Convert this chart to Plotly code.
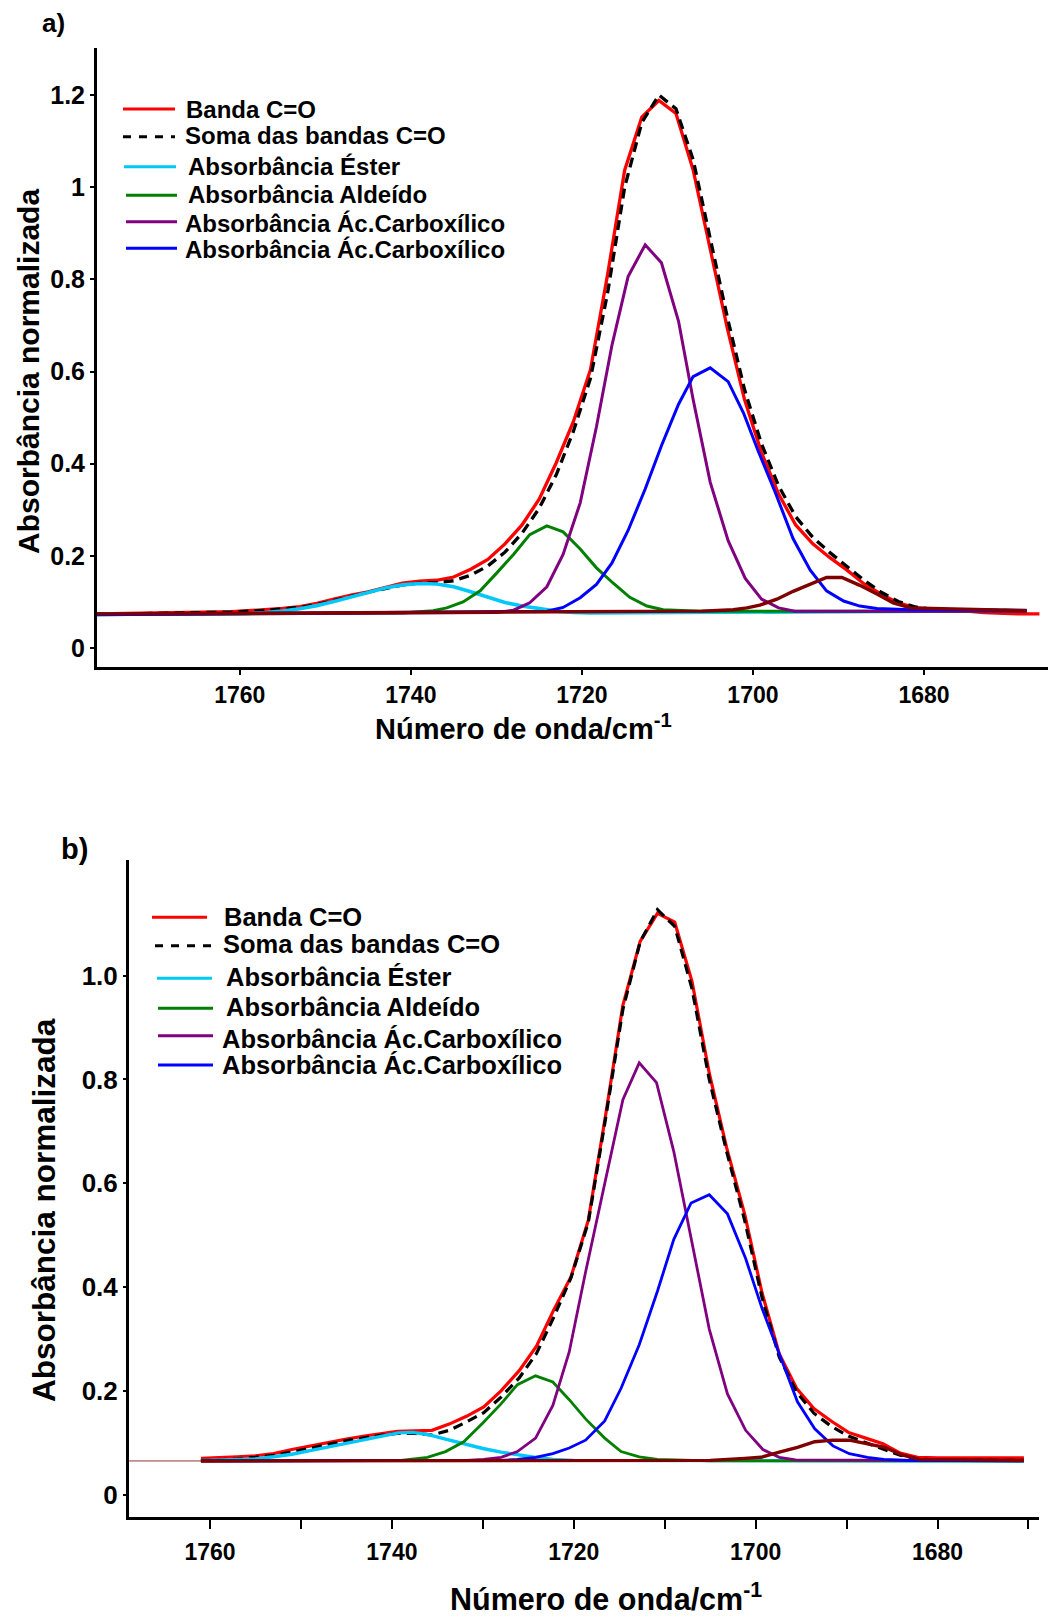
import plotly.graph_objects as go

W, H = 1048, 1620

# ------------------------- Panel a) data -------------------------
a_banda_x = [1777, 1773, 1769, 1765, 1763, 1761, 1759, 1757, 1755, 1753, 1751, 1749, 1747, 1745, 1743, 1741,
             1739, 1737, 1735, 1733, 1731, 1729, 1727, 1725, 1723, 1721, 1719, 1717, 1715, 1713, 1711, 1709,
             1707, 1705, 1703, 1701, 1699, 1697, 1695, 1693, 1691, 1689, 1687, 1685, 1683, 1681, 1679, 1677,
             1675, 1673, 1671, 1669, 1666.5]
a_banda_y = [0.074, 0.075, 0.076, 0.077, 0.078, 0.079, 0.081, 0.083, 0.086, 0.090, 0.097, 0.106, 0.115, 0.122,
             0.131, 0.141, 0.145, 0.147, 0.154, 0.171, 0.192, 0.226, 0.267, 0.323, 0.402, 0.491, 0.604, 0.810,
             1.037, 1.152, 1.188, 1.160, 1.038, 0.866, 0.694, 0.540, 0.424, 0.334, 0.267, 0.226, 0.196, 0.169,
             0.139, 0.117, 0.098, 0.087, 0.085, 0.083, 0.080, 0.077, 0.075, 0.074, 0.074]

a_soma_x = [1777, 1765, 1761, 1757, 1753, 1751, 1749, 1747, 1745, 1743, 1741, 1739, 1737, 1735, 1733, 1731,
            1729, 1727, 1725, 1723, 1721, 1719, 1717, 1715, 1713, 1711, 1709, 1707, 1705, 1703, 1701, 1699,
            1697, 1695, 1693, 1691, 1689, 1687, 1685, 1683, 1681, 1679, 1675, 1668]
a_soma_y = [0.073, 0.076, 0.078, 0.082, 0.088, 0.094, 0.103, 0.113, 0.121, 0.129, 0.137, 0.141, 0.142, 0.146,
            0.158, 0.178, 0.208, 0.249, 0.303, 0.376, 0.470, 0.585, 0.770, 1.000, 1.140, 1.200, 1.170, 1.060,
            0.890, 0.718, 0.562, 0.443, 0.352, 0.285, 0.240, 0.207, 0.177, 0.147, 0.121, 0.101, 0.089, 0.084,
            0.082, 0.081]

a_ester_x = [1777, 1761, 1759, 1757, 1755, 1753, 1751, 1749, 1747, 1745, 1743, 1741, 1739, 1737, 1735, 1733,
             1731, 1729, 1727, 1725, 1723, 1721, 1719, 1668]
a_ester_y = [0.073, 0.074, 0.075, 0.077, 0.080, 0.085, 0.092, 0.101, 0.111, 0.121, 0.130, 0.137, 0.140, 0.139,
             0.133, 0.122, 0.110, 0.099, 0.091, 0.085, 0.080, 0.077, 0.076, 0.081]

a_aldeido_x = [1777, 1741, 1737.4, 1735.8, 1733.9, 1731.9, 1730.0, 1728.0, 1726.1, 1724.1, 1722.2, 1720.2,
               1718.3, 1716.3, 1714.4, 1712.4, 1710.5, 1706.2, 1668]
a_aldeido_y = [0.073, 0.076, 0.081, 0.087, 0.100, 0.124, 0.162, 0.203, 0.246, 0.265, 0.252, 0.215, 0.174,
               0.140, 0.110, 0.091, 0.083, 0.080, 0.079]

a_acido1_x = [1777, 1730.0, 1728.0, 1726.1, 1724.1, 1722.2, 1720.2, 1718.3, 1716.5, 1714.6, 1712.6, 1710.7,
              1708.7, 1707.0, 1705.0, 1702.9, 1700.9, 1699.0, 1697.0, 1695.1, 1668]
a_acido1_y = [0.073, 0.077, 0.082, 0.098, 0.133, 0.203, 0.315, 0.480, 0.656, 0.806, 0.875, 0.836, 0.709,
              0.540, 0.360, 0.233, 0.151, 0.106, 0.087, 0.080, 0.080]

a_acido2_x = [1777, 1724.1, 1722.2, 1720.2, 1718.3, 1716.5, 1714.6, 1712.6, 1710.7, 1708.7, 1707.0, 1705.0,
              1702.9, 1701.1, 1699.4, 1697.4, 1695.3, 1693.3, 1691.4, 1689.4, 1687.5, 1685.5, 1681.6, 1668]
a_acido2_y = [0.072, 0.080, 0.088, 0.109, 0.138, 0.184, 0.255, 0.345, 0.439, 0.529, 0.589, 0.608, 0.578,
              0.510, 0.428, 0.338, 0.237, 0.169, 0.124, 0.102, 0.091, 0.086, 0.083, 0.082]

a_extra_x = [1777, 1706, 1702.3, 1700.7, 1699.2, 1697.2, 1695.3, 1693.3, 1691.4, 1689.6, 1687.5, 1685.5,
             1683.6, 1681.6, 1668]
a_extra_y = [0.074, 0.080, 0.083, 0.087, 0.093, 0.106, 0.123, 0.139, 0.153, 0.153, 0.136, 0.117, 0.098,
             0.087, 0.081]

# ------------------------- Panel b) data -------------------------
b_banda_x = [1761, 1759, 1757, 1755, 1753, 1751, 1749, 1747, 1745, 1743, 1741, 1739.4, 1737.5, 1735.6,
             1733.7, 1731.8, 1729.9, 1728.0, 1726.0, 1724.1, 1722.2, 1720.3, 1718.4, 1716.5, 1714.6, 1712.7,
             1710.8, 1708.9, 1707.0, 1705.1, 1703.2, 1701.2, 1699.3, 1697.4, 1695.5, 1693.6, 1691.7, 1689.8,
             1687.9, 1686.0, 1684.1, 1682.2, 1680.0, 1670.5]
b_banda_y = [0.070, 0.071, 0.073, 0.075, 0.079, 0.087, 0.094, 0.101, 0.107, 0.113, 0.118, 0.122, 0.123,
             0.124, 0.136, 0.151, 0.169, 0.200, 0.239, 0.286, 0.356, 0.420, 0.529, 0.731, 0.943, 1.066,
             1.120, 1.103, 0.989, 0.812, 0.669, 0.540, 0.389, 0.271, 0.205, 0.166, 0.142, 0.120, 0.109,
             0.098, 0.080, 0.072, 0.071, 0.071]

b_soma_x = b_banda_x
b_soma_y = [0.066, 0.067, 0.069, 0.072, 0.076, 0.082, 0.090, 0.097, 0.104, 0.110, 0.115, 0.118, 0.118,
            0.115, 0.124, 0.140, 0.158, 0.188, 0.225, 0.272, 0.342, 0.418, 0.525, 0.725, 0.935, 1.065,
            1.127, 1.095, 0.975, 0.800, 0.662, 0.528, 0.380, 0.265, 0.198, 0.157, 0.132, 0.113, 0.100,
            0.088, 0.076, 0.069, 0.067, 0.066]

b_ester_x = [1761, 1757, 1755, 1753, 1751, 1749, 1747, 1745, 1743, 1741, 1739.3, 1737.7, 1736.1, 1734.1,
             1732.1, 1730.0, 1728.0, 1726.0, 1724.2, 1722.3, 1720.0, 1670.5]
b_ester_y = [0.066, 0.067, 0.069, 0.073, 0.078, 0.085, 0.092, 0.099, 0.106, 0.113, 0.119, 0.120, 0.116,
             0.107, 0.098, 0.089, 0.082, 0.076, 0.072, 0.068, 0.066, 0.065]

b_aldeido_x = [1761, 1741, 1739.0, 1736.1, 1734.1, 1732.1, 1730.0, 1728.0, 1726.2, 1724.2, 1722.3, 1720.5,
               1718.7, 1716.6, 1714.8, 1712.8, 1710.8, 1705, 1670.5]
b_aldeido_y = [0.065, 0.065, 0.066, 0.072, 0.083, 0.102, 0.138, 0.175, 0.212, 0.229, 0.217, 0.183, 0.146,
               0.109, 0.083, 0.073, 0.068, 0.065, 0.065]

b_acido1_x = [1761, 1731.8, 1729.9, 1728.0, 1726.2, 1724.2, 1722.3, 1720.5, 1718.7, 1716.6, 1714.6, 1712.8,
              1710.9, 1709.0, 1707.1, 1705.1, 1703.1, 1701.1, 1699.2, 1697.4, 1695.6, 1670.5]
b_acido1_y = [0.065, 0.066, 0.068, 0.072, 0.083, 0.109, 0.172, 0.275, 0.429, 0.599, 0.761, 0.832, 0.794,
              0.661, 0.496, 0.319, 0.194, 0.124, 0.087, 0.072, 0.067, 0.065]

b_acido2_x = [1761, 1728.0, 1726.2, 1724.2, 1722.3, 1720.5, 1718.7, 1716.6, 1714.8, 1712.8, 1710.8, 1709.0,
              1707.1, 1705.1, 1703.1, 1701.1, 1699.3, 1697.2, 1695.4, 1693.5, 1691.5, 1689.7, 1687.7, 1685.9,
              1683.0, 1670.5]
b_acido2_y = [0.065, 0.066, 0.068, 0.072, 0.079, 0.090, 0.105, 0.142, 0.205, 0.289, 0.392, 0.492, 0.562,
              0.578, 0.541, 0.455, 0.359, 0.260, 0.179, 0.127, 0.094, 0.079, 0.072, 0.068, 0.066, 0.065]

b_extra_x = [1761, 1705, 1701.2, 1699.4, 1697.4, 1695.4, 1693.5, 1691.5, 1689.7, 1687.7, 1685.8, 1683.8,
             1682.0, 1670.5]
b_extra_y = [0.065, 0.066, 0.070, 0.072, 0.082, 0.091, 0.102, 0.105, 0.105, 0.098, 0.091, 0.076, 0.068,
             0.066]

b_base_x = [1768.9, 1670.5]
b_base_y = [0.065, 0.065]

# ------------------------- labels -------------------------
legend_labels = ["Banda C=O", "Soma das bandas C=O", "Absorbância Éster", "Absorbância Aldeído",
                 "Absorbância Ác.Carboxílico", "Absorbância Ác.Carboxílico"]
x_title = "Número de onda/cm<sup>-1</sup>"
y_title = "Absorbância normalizada"
a_xticks = [1760, 1740, 1720, 1700, 1680]
a_yticks = [0, 0.2, 0.4, 0.6, 0.8, 1.0, 1.2]
a_yticktext = ["0", "0.2", "0.4", "0.6", "0.8", "1", "1.2"]
b_xticks = [1760, 1740, 1720, 1700, 1680]
b_xminor = [1750, 1730, 1710, 1690, 1670]
b_yticks = [0, 0.2, 0.4, 0.6, 0.8, 1.0]
b_yticktext = ["0", "0.2", "0.4", "0.6", "0.8", "1.0"]

# ------------------------- styles -------------------------
RED, BLACK, CYAN, GREEN, PURPLE, BLUE, BROWN = "#FF0000", "#000000", "#00C8F8", "#008000", "#800080", "#0000FF", "#800000"
a_styles = [  # colour, width, dash
    (RED, 3.3, "solid"),
    (BLACK, 3.3, "10px,6px"),
    (CYAN, 3.6, "solid"),
    (GREEN, 3, "solid"),
    (PURPLE, 3, "solid"),
    (BLUE, 3, "solid"),
]
b_styles = [
    (RED, 3.2, "solid"),
    (BLACK, 3.2, "10px,6px"),
    (CYAN, 3.4, "solid"),
    (GREEN, 2.8, "solid"),
    (PURPLE, 2.8, "solid"),
    (BLUE, 2.8, "solid"),
]
FONT = "Liberation Sans, Arial, sans-serif"

fig = go.Figure()

a_series = [(a_banda_x, a_banda_y), (a_soma_x, a_soma_y), (a_ester_x, a_ester_y),
            (a_aldeido_x, a_aldeido_y), (a_acido1_x, a_acido1_y), (a_acido2_x, a_acido2_y)]
b_series = [(b_banda_x, b_banda_y), (b_soma_x, b_soma_y), (b_ester_x, b_ester_y),
            (b_aldeido_x, b_aldeido_y), (b_acido1_x, b_acido1_y), (b_acido2_x, b_acido2_y)]

for (xs, ys), (c, w, d), name in zip(a_series, a_styles, legend_labels):
    fig.add_trace(go.Scatter(x=xs, y=ys, mode="lines", name=name, line=dict(color=c, width=w, dash=d),
                             xaxis="x", yaxis="y", showlegend=False))
fig.add_trace(go.Scatter(x=a_extra_x, y=a_extra_y, mode="lines", line=dict(color=BROWN, width=3.4),
                         xaxis="x", yaxis="y", showlegend=False))

fig.add_trace(go.Scatter(x=b_base_x, y=b_base_y, mode="lines", line=dict(color="#9A3030", width=1),
                         xaxis="x2", yaxis="y2", showlegend=False))
for (xs, ys), (c, w, d), name in zip(b_series, b_styles, legend_labels):
    fig.add_trace(go.Scatter(x=xs, y=ys, mode="lines", name=name, line=dict(color=c, width=w, dash=d),
                             xaxis="x2", yaxis="y2", showlegend=False))
fig.add_trace(go.Scatter(x=b_extra_x, y=b_extra_y, mode="lines", line=dict(color=BROWN, width=3.4),
                         xaxis="x2", yaxis="y2", showlegend=False))


def px_x(p):
    return p / W


def px_y(p):
    return 1 - p / H


axis_common = dict(showline=True, linecolor="black", showgrid=False, zeroline=False, ticks="outside",
                   tickcolor="black", mirror=False)

fig.update_layout(
    width=W, height=H, margin=dict(l=0, r=0, t=0, b=0),
    paper_bgcolor="white", plot_bgcolor="white", showlegend=False,
    xaxis=dict(domain=[px_x(97), px_x(1048)], range=[1776.7, 1665.5], anchor="y",
               tickvals=a_xticks, ticklen=5, tickwidth=2, linewidth=3,
               tickfont=dict(family=FONT, size=23, color="black", weight="bold"), **axis_common),
    yaxis=dict(domain=[px_y(667), px_y(48)], range=[-0.0412, 1.302], anchor="x",
               tickvals=a_yticks, ticktext=a_yticktext, ticklen=4, tickwidth=2, linewidth=3,
               tickfont=dict(family=FONT, size=25, color="black", weight="bold"), **axis_common),
    xaxis2=dict(domain=[px_x(129), px_x(1039)], range=[1768.91, 1668.84], anchor="y2",
                tickvals=b_xticks, ticklen=9, tickwidth=2, linewidth=3, ticklabelstandoff=3,
                minor=dict(tickvals=b_xminor, ticks="outside", ticklen=9, tickwidth=2, tickcolor="black"),
                tickfont=dict(family=FONT, size=23, color="black", weight="bold"), **axis_common),
    yaxis2=dict(domain=[px_y(1517), px_y(860)], range=[-0.043, 1.2228], anchor="x2",
                tickvals=b_yticks, ticktext=b_yticktext, ticklen=3, tickwidth=2, linewidth=3,
                tickfont=dict(family=FONT, size=26, color="black", weight="bold"), **axis_common),
)

shapes = []
annotations = []

# legends drawn manually: (line x0, x1, line y, text x, text y)
a_leg = [(123, 175, 109, 184, 110), (123, 175, 136.7, 183, 136), (124, 176, 166.7, 186, 166),
         (126, 177, 195.3, 186, 194), (126, 177, 221.7, 182.5, 223.5), (126, 177, 248.3, 182.5, 249.5)]
b_leg = [(152, 207, 917.3, 222, 917), (155, 211, 945.7, 221, 944), (157, 212, 978.3, 224, 976.7),
         (158, 213, 1008.3, 224, 1006.7), (158, 213, 1035.7, 220, 1039), (158, 213, 1065, 220, 1065)]
leg_dash = ["solid", "8px,8px", "solid", "solid", "solid", "solid"]

for leg, styles, fsize in ((a_leg, a_styles, 24), (b_leg, b_styles, 25.5)):
    for (x0, x1, ly, tx, ty), (c, w, d), dsh, lab in zip(leg, styles, leg_dash, legend_labels):
        shapes.append(dict(type="line", xref="paper", yref="paper", x0=px_x(x0), x1=px_x(x1),
                           y0=px_y(ly), y1=px_y(ly), line=dict(color=c, width=3, dash=dsh)))
        annotations.append(dict(xref="paper", yref="paper", x=px_x(tx), y=px_y(ty), text=lab,
                                showarrow=False, xanchor="left", yanchor="middle",
                                font=dict(family=FONT, size=fsize, color="black", weight="bold")))

# axis titles and panel labels
annotations += [
    dict(xref="paper", yref="paper", x=px_x(28), y=px_y(372), text=y_title, textangle=-90, showarrow=False,
         xanchor="center", yanchor="middle", font=dict(family=FONT, size=30, color="black", weight="bold")),
    dict(xref="paper", yref="paper", x=px_x(44), y=px_y(1210), text=y_title, textangle=-90, showarrow=False,
         xanchor="center", yanchor="middle", font=dict(family=FONT, size=31.5, color="black", weight="bold")),
    dict(xref="paper", yref="paper", x=px_x(523), y=px_y(727), text=x_title, showarrow=False,
         xanchor="center", yanchor="middle", font=dict(family=FONT, size=29, color="black", weight="bold")),
    dict(xref="paper", yref="paper", x=px_x(606), y=px_y(1597), text=x_title, showarrow=False,
         xanchor="center", yanchor="middle", font=dict(family=FONT, size=30.5, color="black", weight="bold")),
    dict(xref="paper", yref="paper", x=px_x(53), y=px_y(23), text="a)", showarrow=False,
         xanchor="center", yanchor="middle", font=dict(family=FONT, size=26, color="black", weight="bold")),
    dict(xref="paper", yref="paper", x=px_x(74), y=px_y(849), text="b)", showarrow=False,
         xanchor="center", yanchor="middle", font=dict(family=FONT, size=29, color="black", weight="bold")),
]

fig.update_layout(shapes=shapes, annotations=annotations)
fig.write_html("out.html", config={"displayModeBar": False, "responsive": False},
               post_script="document.body.style.margin='0';document.body.style.overflow='hidden';")
